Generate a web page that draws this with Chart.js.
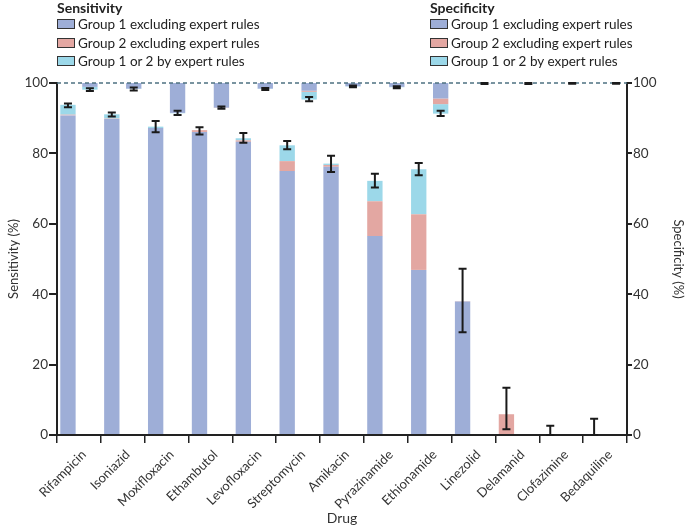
<!DOCTYPE html>
<html>
<head>
<meta charset="utf-8">
<script src="https://cdn.jsdelivr.net/npm/chart.js@4.4.1/dist/chart.umd.min.js"></script>
<style>
  body { margin: 0; background: #fff; font-family: Lato, sans-serif; }
  #wrap { position: relative; width: 686px; height: 530px; }
  canvas { position: absolute; left: 0; top: 0; }
  .legend { position: absolute; top: 0; color: #222; font-size: 13.5px; }
  .legend h4 { margin: 0; font-size: 14px; font-weight: bold; line-height: 15px; }
  .item { display: flex; align-items: center; height: 18.5px; }
  .box { width: 16px; height: 8px; border: 1.5px solid #333; margin-right: 3px; }
</style>
</head>
<body>
<div id="wrap">
  <canvas id="chart" width="686" height="530"></canvas>
  <div class="legend" style="left:57px">
    <h4>Sensitivity</h4>
    <div class="item"><span class="box" style="background:#9eaed7"></span>Group 1 excluding expert rules</div>
    <div class="item"><span class="box" style="background:#e3a7a2"></span>Group 2 excluding expert rules</div>
    <div class="item"><span class="box" style="background:#9cd8e9"></span>Group 1 or 2 by expert rules</div>
  </div>
  <div class="legend" style="left:430px">
    <h4>Specificity</h4>
    <div class="item"><span class="box" style="background:#9eaed7"></span>Group 1 excluding expert rules</div>
    <div class="item"><span class="box" style="background:#e3a7a2"></span>Group 2 excluding expert rules</div>
    <div class="item"><span class="box" style="background:#9cd8e9"></span>Group 1 or 2 by expert rules</div>
  </div>
</div>
<script>
// Drugs on the x axis
const drugs = ['Rifampicin', 'Isoniazid', 'Moxifloxacin', 'Ethambutol', 'Levofloxacin', 'Streptomycin',
  'Amikacin', 'Pyrazinamide', 'Ethionamide', 'Linezolid', 'Delamanid', 'Clofazimine', 'Bedaquiline'];

// Sensitivity (%) contributed by each part, stacked up from 0
const sensGroup1 = [90.8, 89.8, 87.2, 86.1, 83.3, 75.0, 76.2, 56.5, 46.9, 37.9, 0, 0, 0];
const sensGroup2 = [0.2, 0.1, 0, 0.5, 0.4, 2.8, 0.5, 9.9, 15.8, 0.1, 5.9, 0, 0];
const sensExpert = [2.8, 1.2, 0.4, 0, 0.6, 4.5, 0.4, 5.8, 12.8, 0, 0, 0, 0];
const sensLow = [93.1, 90.5, 86.0, 85.4, 83.0, 81.2, 74.7, 70.3, 73.8, 29.2, 1.6, 0, 0];
const sensHigh = [94.2, 91.6, 89.2, 87.4, 85.8, 83.5, 79.3, 74.2, 77.3, 47.2, 13.4, 2.6, 4.6];

// Specificity (%) lost by each part, hanging down from 100
const specGroup1 = [1.1, 1.6, 8.5, 7.0, 1.6, 2.2, 0.9, 1.1, 4.4, 0.1, 0.1, 0, 0];
const specGroup2 = [0, 0, 0, 0.1, 0, 0.3, 0, 0, 1.6, 0, 0, 0, 0];
const specExpert = [0.8, 0.1, 0.1, 0, 0.1, 2.2, 0.1, 0.1, 2.7, 0, 0, 0, 0];
const specLow = [97.7, 97.9, 90.9, 92.7, 98.0, 94.8, 98.8, 98.5, 90.6, 99.7, 99.7, 99.8, 99.8];
const specHigh = [98.5, 98.7, 92.1, 93.3, 98.6, 96.0, 99.3, 99.1, 92.1, 100, 100, 100, 100];

const yTicks = [0, 20, 40, 60, 80, 100];

const blue = '#9eaed7';
const pink = '#e3a7a2';
const cyan = '#9cd8e9';
const axisFont = { family: 'Lato', size: 13 };

// turn the part sizes into [start, end] pairs for floating bars
function stackUp(parts, base, dir) {
  let level = base.slice();
  return parts.map(function(part) {
    return part.map((v, i) => {
      const start = level[i];
      const end = start + dir * v;
      level[i] = end;
      return [start, end];
    });
  });
}

const sensBars = stackUp([sensGroup1, sensGroup2, sensExpert], drugs.map(() => 0), 1);
const specBars = stackUp([specGroup1, specGroup2, specExpert], drugs.map(() => 100), -1);

function barSet(label, data, color, stack) {
  return {
    label: label,
    data: data,
    backgroundColor: color,
    borderWidth: 0,
    stack: stack,
    yAxisID: 'y',
    categoryPercentage: 1.0,
    barPercentage: 0.7
  };
}

// dashed reference line at 100 and the error bars
const extras = {
  id: 'extras',
  afterDatasetsDraw(chart) {
    const ctx = chart.ctx;
    const area = chart.chartArea;
    const y = chart.scales.y;
    ctx.save();
    ctx.strokeStyle = '#4e7181';
    ctx.lineWidth = 1.5;
    ctx.setLineDash([4, 3]);
    ctx.beginPath();
    ctx.moveTo(area.left, y.getPixelForValue(100));
    ctx.lineTo(area.right, y.getPixelForValue(100));
    ctx.stroke();
    ctx.setLineDash([]);

    ctx.strokeStyle = '#1a1a1a';
    ctx.lineWidth = 2;
    const sensMeta = chart.getDatasetMeta(0);
    const specMeta = chart.getDatasetMeta(3);
    function errBar(x, lo, hi) {
      const y1 = y.getPixelForValue(lo);
      const y2 = y.getPixelForValue(hi);
      ctx.beginPath();
      ctx.moveTo(x, y1); ctx.lineTo(x, y2);
      ctx.moveTo(x - 4, y1); ctx.lineTo(x + 4, y1);
      ctx.moveTo(x - 4, y2); ctx.lineTo(x + 4, y2);
      ctx.stroke();
    }
    drugs.forEach(function(d, i) {
      errBar(sensMeta.data[i].x, sensLow[i], sensHigh[i]);
      errBar(specMeta.data[i].x, specLow[i], specHigh[i]);
    });
    ctx.restore();
  }
};

const ctx = document.getElementById('chart').getContext('2d');
new Chart(ctx, {
  type: 'bar',
  data: {
    labels: drugs,
    datasets: [
      barSet('Sensitivity group 1', sensBars[0], blue, 'sens'),
      barSet('Sensitivity group 2', sensBars[1], pink, 'sens'),
      barSet('Sensitivity expert', sensBars[2], cyan, 'sens'),
      barSet('Specificity group 1', specBars[0], blue, 'spec'),
      barSet('Specificity group 2', specBars[1], pink, 'spec'),
      barSet('Specificity expert', specBars[2], cyan, 'spec')
    ]
  },
  options: {
    responsive: false,
    animation: false,
    layout: { padding: { top: 83, left: 0, right: 0, bottom: 0 } },
    plugins: { legend: { display: false }, tooltip: { enabled: false } },
    scales: {
      x: {
        stacked: true,
        offset: true,
        grid: { offset: true, drawOnChartArea: false, drawTicks: true, tickLength: 8, color: '#222', lineWidth: 1.5 },
        border: { display: true, color: '#222', width: 2 },
        ticks: { maxRotation: 45, minRotation: 45, color: '#333', font: { family: 'Lato', size: 13 }, padding: 4, labelOffset: 5 },
        title: { display: true, text: 'Drug', color: '#333', font: { family: 'Lato', size: 14 }, padding: { top: 0, bottom: 3 } },
        afterFit: function(s) { s.height = 95; }
      },
      y: {
        position: 'left',
        stacked: false,
        min: 0,
        max: 100,
        afterBuildTicks: function(s) { s.ticks = yTicks.map(v => ({ value: v })); },
        grid: { drawOnChartArea: false, drawTicks: true, tickLength: 8, color: '#222', lineWidth: 2 },
        border: { display: true, color: '#222', width: 2 },
        ticks: { color: '#333', font: { family: 'Lato', size: 13.5 }, padding: 1 },
        title: { display: true, text: 'Sensitivity (%)', color: '#333', font: axisFont, padding: { top: 6, bottom: 0 } },
        afterFit: function(s) { s.width = 57; }
      },
      y2: {
        position: 'right',
        min: 0,
        max: 100,
        afterBuildTicks: function(s) { s.ticks = yTicks.map(v => ({ value: v })); },
        grid: { drawOnChartArea: false, drawTicks: true, tickLength: 5, color: '#222', lineWidth: 2 },
        border: { display: true, color: '#222', width: 2 },
        ticks: { color: '#333', font: { family: 'Lato', size: 13.5 }, padding: 1 },
        title: { display: true, text: 'Specificity (%)', color: '#333', font: axisFont, padding: 0 },
        afterFit: function(s) { s.width = 59; }
      }
    }
  },
  plugins: [extras]
});
</script>
</body>
</html>
